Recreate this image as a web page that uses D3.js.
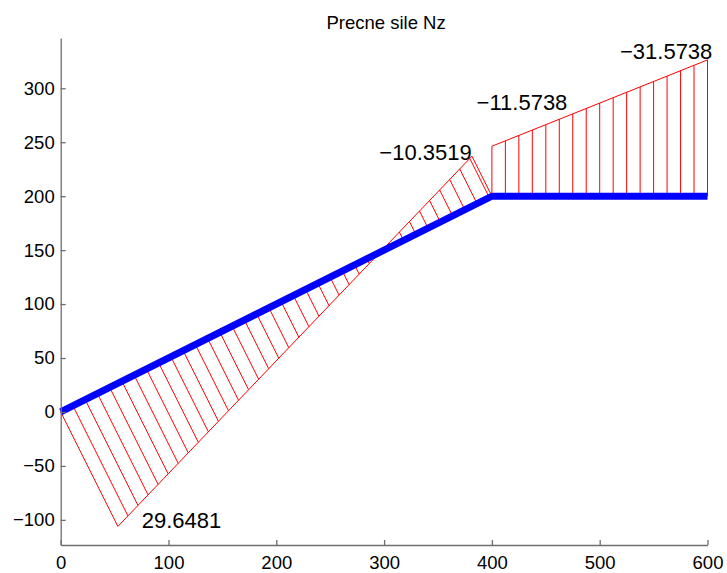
<!DOCTYPE html>
<html>
<head>
<meta charset="utf-8">
<script src="https://cdn.jsdelivr.net/npm/d3@7"></script>
<style>
  html, body { margin: 0; padding: 0; background: #fff; }
  svg { display: block; font-family: "Liberation Sans", Arial, Helvetica, sans-serif; }
</style>
</head>
<body>
<div id="chart"></div>
<script>
// ---- data ----
const titleText = "Precne sile Nz";
const xTicks = [0, 100, 200, 300, 400, 500, 600];
const yTicks = [-100, -50, 0, 50, 100, 150, 200, 250, 300];
const xDomain = [0, 600];
const yDomain = [-123.3, 346.6];

// structure nodes
const nodeX = [0, 400, 600];
const nodeY = [0, 200, 200];
// members (node indices)
const memberStart = [0, 1];
const memberEnd = [1, 2];
// shear force at member start / end
const shearStart = [29.6481, -11.5738];
const shearEnd = [-10.3519, -31.5738];
const diagramScale = 4;           // drawing scale of the force diagram
const hatchStep = [12.7, 12.5];   // spacing of hatch lines along each member

// value labels (data coordinates of text baseline)
const labelText = ["29.6481", "\u221210.3519", "\u221211.5738", "\u221231.5738"];
const labelX = [75.1, 381.3, 470.0, 604.5];
const labelY = [-108.0, 233.5, 279.9, 326.9];
const labelAnchor = ["start", "end", "end", "end"];

// ---- layout ----
const W = 727, H = 573;
const mLeft = 60.7, mRight = 707.5, mTop = 38, mBottom = 545;

const svg = d3.select("#chart").append("svg")
  .attr("width", W).attr("height", H);

const x = d3.scaleLinear().domain(xDomain).range([mLeft, mRight]);
const y = d3.scaleLinear().domain(yDomain).range([mBottom, mTop]);

// ---- force diagram (hatching + outline) ----
const diag = svg.append("g");
memberStart.forEach((si, m) => {
  const ei = memberEnd[m];
  const x0 = nodeX[si], y0 = nodeY[si], x1 = nodeX[ei], y1 = nodeY[ei];
  const L = Math.hypot(x1 - x0, y1 - y0);
  const dx = (x1 - x0) / L, dy = (y1 - y0) / L;
  const nx = dy, ny = -dx;
  const v0 = shearStart[m] * diagramScale, v1 = shearEnd[m] * diagramScale;
  const pt = (t) => {
    const bx = x0 + (x1 - x0) * t, by = y0 + (y1 - y0) * t;
    const v = v0 + (v1 - v0) * t;
    return { bx, by, ox: bx + nx * v, oy: by + ny * v };
  };
  const ts = d3.range(0, L + 1e-6, hatchStep[m]).map(s => s / L);
  if (1 - ts[ts.length - 1] > 1e-6) ts.push(1);
  ts.forEach(t => {
    const p = pt(t);
    diag.append("line")
      .attr("x1", x(p.bx)).attr("y1", y(p.by))
      .attr("x2", x(p.ox)).attr("y2", y(p.oy))
      .attr("stroke", "#ff0000").attr("stroke-width", 1);
  });
  const a = pt(0), b = pt(1);
  diag.append("line")
    .attr("x1", x(a.ox)).attr("y1", y(a.oy))
    .attr("x2", x(b.ox)).attr("y2", y(b.oy))
    .attr("stroke", "#ff0000").attr("stroke-width", 1);
});

// ---- beam ----
const beamLine = d3.line().x(i => x(nodeX[i])).y(i => y(nodeY[i]));
svg.append("path")
  .attr("d", beamLine(d3.range(nodeX.length)))
  .attr("fill", "none")
  .attr("stroke", "#0000ff")
  .attr("stroke-width", 7)
  .attr("stroke-linejoin", "miter")
  .attr("stroke-linecap", "butt");

// ---- axes ----
const axisColor = "#6e6e6e";
const gx = svg.append("g")
  .attr("transform", `translate(0,${mBottom})`)
  .call(d3.axisBottom(x).tickValues(xTicks).tickSizeInner(-5).tickSizeOuter(0).tickPadding(11)
        .tickFormat(d3.format("d")));
const gy = svg.append("g")
  .attr("transform", `translate(${mLeft},0)`)
  .call(d3.axisLeft(y).tickValues(yTicks).tickSizeInner(-5).tickSizeOuter(0).tickPadding(6)
        .tickFormat(d => d < 0 ? "\u2212" + Math.abs(d) : String(d)));
[gx, gy].forEach(g => {
  g.select(".domain").attr("stroke", axisColor).attr("stroke-width", 1.3);
  g.selectAll(".tick line").attr("stroke", axisColor).attr("stroke-width", 1.3);
  g.selectAll(".tick text").attr("fill", "#000").attr("font-size", 18.5)
    .attr("font-family", "'Liberation Sans', Arial, Helvetica, sans-serif");
});

// ---- title ----
svg.append("text")
  .attr("x", (mLeft + mRight) / 2 + 2)
  .attr("y", 28.5)
  .attr("text-anchor", "middle")
  .attr("font-size", 18.5)
  .attr("fill", "#000")
  .text(titleText);

// ---- value labels ----
labelText.forEach((t, i) => {
  svg.append("text")
    .attr("x", x(labelX[i]))
    .attr("y", y(labelY[i]))
    .attr("text-anchor", labelAnchor[i])
    .attr("font-size", 22)
    .attr("fill", "#000")
    .text(t);
});
</script>
</body>
</html>
